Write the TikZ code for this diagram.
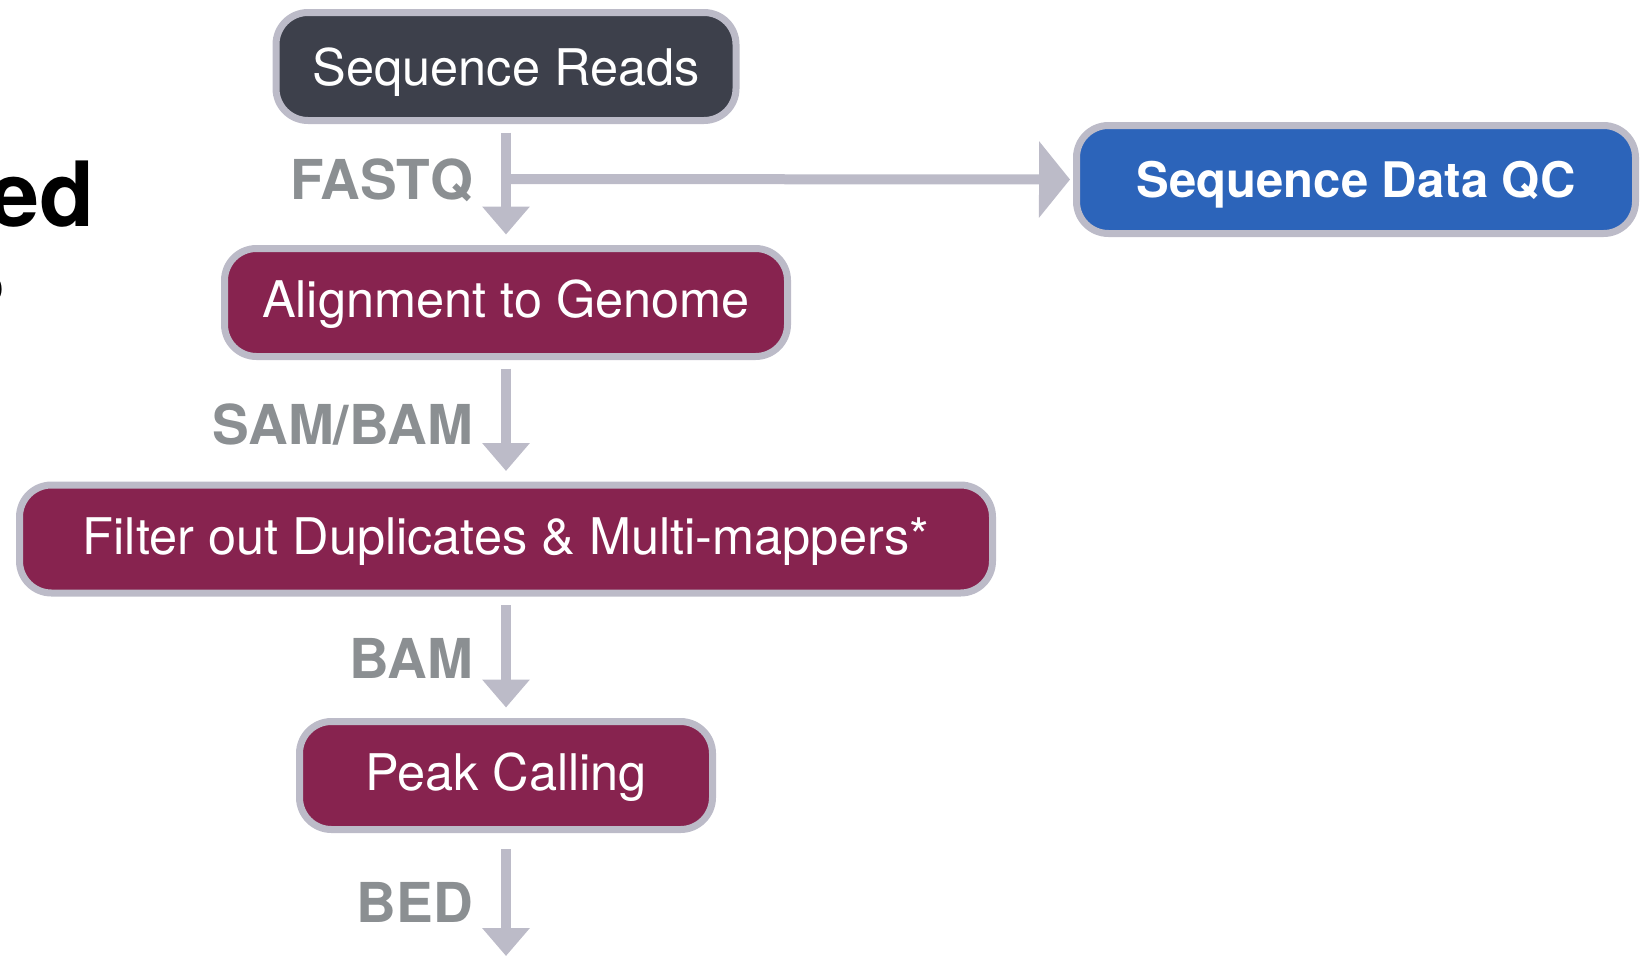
\documentclass[tikz,border=0pt]{standalone}
\usepackage{fontspec}
\setmainfont{TeX Gyre Heros}
\usetikzlibrary{arrows.meta}
\definecolor{readsfill}{HTML}{3D404B}
\definecolor{stepfill}{HTML}{87234F}
\definecolor{qcfill}{HTML}{2C64BA}
\definecolor{edgegrey}{HTML}{BCBBC8}
\definecolor{labelgrey}{HTML}{8B8F92}
\begin{document}
\begin{tikzpicture}[x=1pt,y=-1pt,
  stepbox/.style={rounded corners=32pt, draw=edgegrey, line width=7pt,
    minimum height=108pt, inner sep=0pt, text=white,
    text height=30pt, text depth=0pt,
    font=\fontsize{50.5}{58}\selectfont},
  flow/.style={draw=edgegrey, line width=10pt,
    -{Triangle[width=46pt,length=28pt]}},
  sideflow/.style={draw=edgegrey, line width=10pt,
    -{Triangle[width=75pt,length=31pt]}},
  fmt/.style={anchor=base east, inner sep=0pt, text=labelgrey,
    font=\bfseries\fontsize{55}{62}\selectfont}]
\useasboundingbox (0,0) rectangle (1641,956);

% pipeline steps
\node[stepbox, fill=readsfill, minimum width=460pt, text height=38pt] (reads) at (506,66.5) {Sequence Reads};
\node[stepbox, fill=qcfill, minimum width=559pt, text height=35pt, font=\bfseries\fontsize{49}{58}\selectfont] (qc) at (1356,179.5) {Sequence Data QC};
\node[stepbox, fill=stepfill, minimum width=563pt] (align) at (506,302.5) {Alignment to Genome};
\node[stepbox, fill=stepfill, minimum width=973pt] (filter) at (506,539) {Filter out Duplicates \& Multi-mappers*};
\node[stepbox, fill=stepfill, minimum width=413pt] (peak) at (506,775.5) {Peak Calling};
\coordinate (out) at (506,956);
\coordinate (split) at (506,179);

% connectors between steps
\draw[flow, shorten <=8.5pt, shorten >=10.5pt] (reads.south) -- (align.north);
\draw[sideflow, shorten >=3pt] (split) -- (qc.west);
\draw[flow, shorten <=8.5pt, shorten >=10.5pt] (align.south) -- (filter.north);
\draw[flow, shorten <=8.5pt, shorten >=10.5pt] (filter.south) -- (peak.north);
\draw[flow, shorten <=16pt] (peak.south) -- (out);

% file formats
\node[fmt] (fastq) at (473,199) {FASTQ};
\node[fmt] (sambam) at (473,444) {SAM/BAM};
\node[fmt] (bam) at (473,678) {BAM};
\node[fmt] (bed) at (473,922) {BED};

% title text running in from the left
\node[anchor=base east, inner sep=0pt, font=\bfseries\fontsize{90}{98}\selectfont] (title) at (95,226) {ed};
\node[anchor=base east, inner sep=0pt, font=\bfseries\fontsize{52}{60}\selectfont] (subtitle) at (4.5,303) {o};
\end{tikzpicture}
\end{document}
